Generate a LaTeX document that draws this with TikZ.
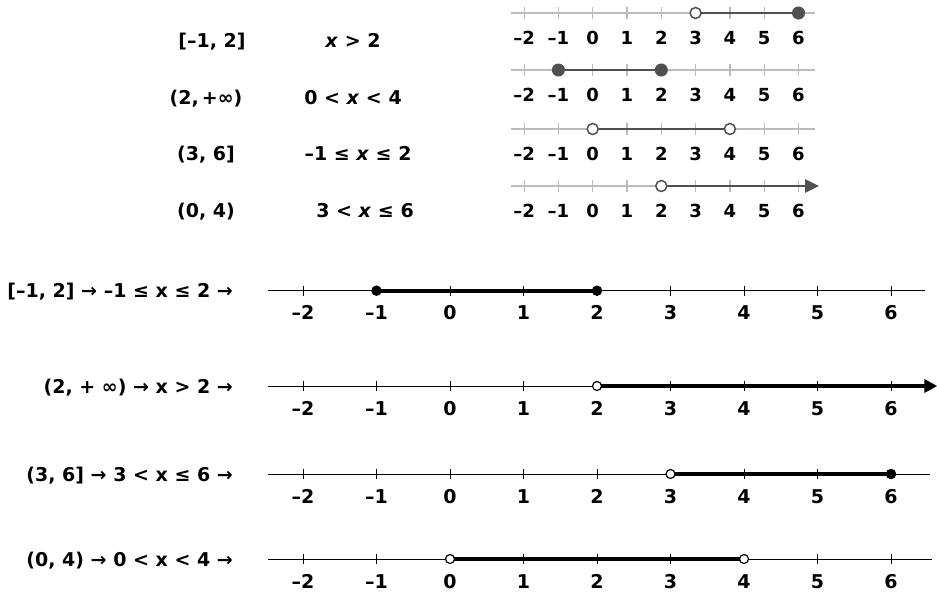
\documentclass[tikz,border=0pt]{standalone}
\usepackage{fontspec}
\setmainfont{DejaVu Sans}
\usetikzlibrary{arrows.meta}
\definecolor{lightax}{HTML}{BBBBBB}
\definecolor{darkseg}{HTML}{505050}
\begin{document}
\begin{tikzpicture}[x=1pt,y=-1pt,
  lbl/.style={font=\fontsize{19}{22}\selectfont\bfseries, inner sep=0pt, anchor=base},
  numt/.style={font=\fontsize{18}{22}\selectfont\bfseries, inner sep=0pt, anchor=base},
  numb/.style={font=\fontsize{19}{22}\selectfont\bfseries, inner sep=0pt, anchor=base},
  tax/.style={draw=lightax, line width=1.6pt},
  tseg/.style={draw=darkseg, line width=2.8pt},
  tfill/.style={fill=darkseg, draw=darkseg, line width=1pt},
  topen/.style={fill=white, draw=darkseg, line width=1.5pt},
  bax/.style={draw=black, line width=0.9pt},
  bseg/.style={draw=black, line width=4pt},
  bfill/.style={fill=black, draw=black, line width=0.8pt},
  bopen/.style={fill=white, draw=black, line width=1.2pt}]
\useasboundingbox (0,0) rectangle (937,592);

% ---------- top texts ----------
\node[lbl] (i1) at (212,47) {[–1, 2]};
\node[lbl] (i2) at (206,104) {(2,\,+∞)};
\node[lbl] (i3) at (206,160) {(3, 6]};
\node[lbl] (i4) at (206,217) {(0, 4)};
\node[lbl] (e1) at (353,47) {\textit{x} > 2};
\node[lbl] (e2) at (353,104) {0 < \textit{x} < 4};
\node[lbl] (e3) at (358,160) {–1 ≤ \textit{x} ≤ 2};
\node[lbl] (e4) at (365,217) {3 < \textit{x} ≤ 6};

% ---------- top number lines ----------
\newcommand\topaxis[2]{%
 \begin{scope}[shift={(592.7,#1)}, x=34.3pt]
  \draw[tax] (-2.38,0) -- (6.48,0);
  \foreach \n/\t in {-2/–2,-1/–1,0/0,1/1,2/2,3/3,4/4,5/5,6/6}{
    \draw[tax, line width=1.2pt] (\n,-6) -- (\n,6);
    \node[numt] (#2n\n) at (\n,31) {\t};}
 \end{scope}}
\topaxis{13}{ta}
\topaxis{70}{tb}
\topaxis{129}{tc}
\topaxis{186}{td}

\begin{scope}[shift={(592.7,13)}, x=34.3pt]
  \draw[tseg] (3,0) -- (6,0);
  \draw[topen] (3,0) circle (5.5pt);
  \draw[tfill] (6,0) circle (6pt);
\end{scope}
\begin{scope}[shift={(592.7,70)}, x=34.3pt]
  \draw[tseg] (-1,0) -- (2,0);
  \draw[tfill] (-1,0) circle (6pt);
  \draw[tfill] (2,0) circle (6pt);
\end{scope}
\begin{scope}[shift={(592.7,129)}, x=34.3pt]
  \draw[tseg] (0,0) -- (4,0);
  \draw[topen] (0,0) circle (5.5pt);
  \draw[topen] (4,0) circle (5.5pt);
\end{scope}
\begin{scope}[shift={(592.7,186)}, x=34.3pt]
  \draw[tseg, -{Triangle[length=14pt,width=13pt]}] (2,0) -- (6.6,0);
  \draw[topen] (2,0) circle (5.5pt);
\end{scope}

% ---------- bottom texts ----------
\node[lbl, anchor=base east] (b1) at (233,297) {[–1, 2] → –1 ≤ x ≤ 2 →};
\node[lbl, anchor=base east] (b2) at (233,393) {(2, + ∞) → x > 2 →};
\node[lbl, anchor=base east] (b3) at (233,481) {(3, 6] → 3 < x ≤ 6 →};
\node[lbl, anchor=base east] (b4) at (233,566) {(0, 4) → 0 < x < 4 →};

% ---------- bottom number lines ----------
\newcommand\botaxis[3]{%
 \begin{scope}[shift={(450,#1)}, x=73.5pt]
  \draw[bax] (-2.476,0) -- (#3,0);
  \foreach \n/\t in {-2/–2,-1/–1,0/0,1/1,2/2,3/3,4/4,5/5,6/6}{
    \draw[bax] (\n,-5) -- (\n,5);
    \node[numb] (#2n\n) at (\n,29) {\t};}
 \end{scope}}
\botaxis{290.7}{ba}{6.46}
\botaxis{386}{bb}{6.3}
\botaxis{474}{bc}{6.53}
\botaxis{559}{bd}{6.56}

\begin{scope}[shift={(450,290.7)}, x=73.5pt]
  \draw[bseg] (-1,0) -- (2,0);
  \draw[bfill] (-1,0) circle (4.8pt);
  \draw[bfill] (2,0) circle (4.8pt);
\end{scope}
\begin{scope}[shift={(450,386)}, x=73.5pt]
  \draw[bseg, -{Triangle[length=13pt,width=13pt]}] (2,0) -- (6.63,0);
  \draw[bopen] (2,0) circle (4.5pt);
\end{scope}
\begin{scope}[shift={(450,474)}, x=73.5pt]
  \draw[bseg] (3,0) -- (6,0);
  \draw[bopen] (3,0) circle (4.5pt);
  \draw[bfill] (6,0) circle (4.8pt);
\end{scope}
\begin{scope}[shift={(450,559)}, x=73.5pt]
  \draw[bseg] (0,0) -- (4,0);
  \draw[bopen] (0,0) circle (4.5pt);
  \draw[bopen] (4,0) circle (4.5pt);
\end{scope}
\end{tikzpicture}
\end{document}
